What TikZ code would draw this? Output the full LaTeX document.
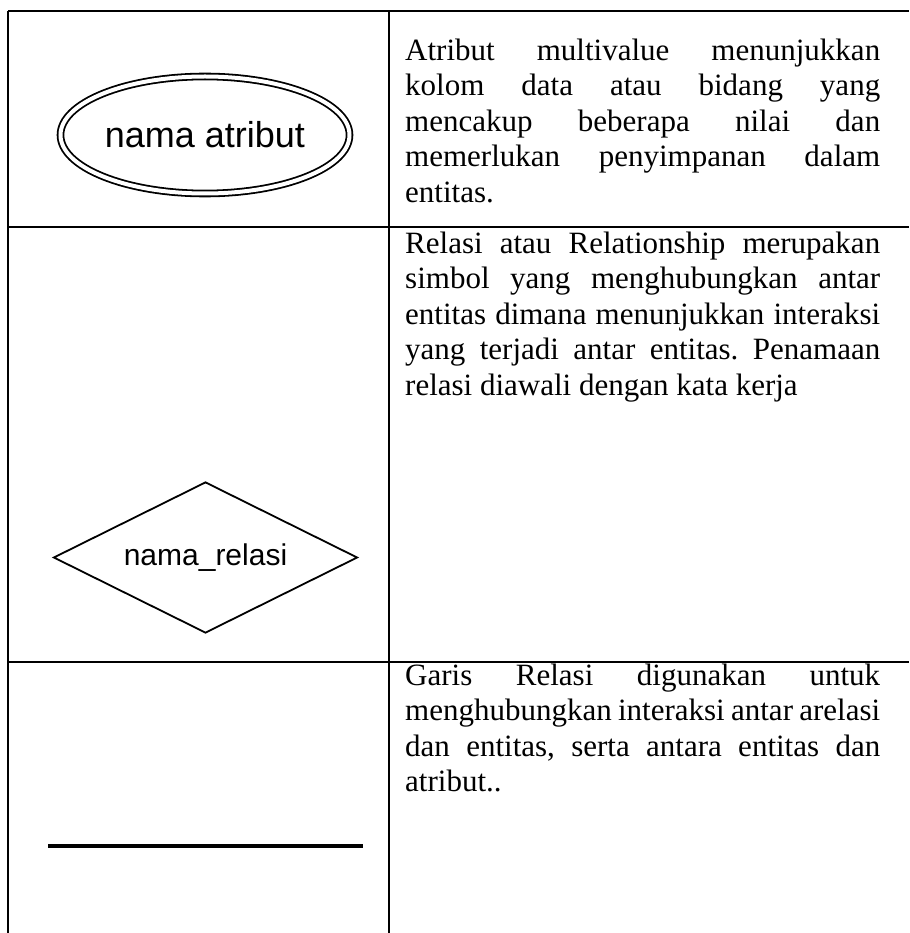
\documentclass[tikz,border=0pt]{standalone}
\usepackage{fontspec}
\setmainfont{Liberation Serif}
\newfontfamily\sansf{Liberation Sans}
\usetikzlibrary{shapes.geometric}
\tolerance=10000
\hbadness=10000
\hyphenpenalty=10000
\frenchspacing
\begin{document}
\frenchspacing
\begin{tikzpicture}[x=1pt,y=-1pt,
  rule/.style={line width=2.2pt},
  desc/.style={anchor=north west, inner sep=0pt, text width=475pt, align=justify,
    font=\fontsize{31}{35.5}\selectfont\frenchspacing},
  shapeline/.style={draw=black, line width=1.8pt}]
\useasboundingbox (0,0) rectangle (909,933);
% table rules
\coordinate (tl) at (8,11);
\coordinate (tr) at (909,11);
\coordinate (r1l) at (8,227);
\coordinate (r1r) at (909,227);
\coordinate (r2l) at (8,662);
\coordinate (r2r) at (909,662);
\coordinate (bl) at (8,933);
\coordinate (dt) at (389,11);
\coordinate (db) at (389,933);
\draw[rule] (tl) -- (tr);
\draw[rule] (r1l) -- (r1r);
\draw[rule] (r2l) -- (r2r);
\draw[rule] (tl) -- (bl);
\draw[rule] (dt) -- (db);
% row 1: multivalue attribute
\node[shapeline, ellipse, double, double distance=4pt, inner sep=0pt,
  minimum width=289pt, minimum height=117pt,
  font=\sansf\fontsize{36}{42}\selectfont] (attr) at (205,135) {nama atribut};
\node[desc] (t1) at (405,35.2) {\strut Atribut multivalue menunjukkan\linebreak
kolom data atau bidang yang\linebreak
mencakup beberapa nilai dan\linebreak
memerlukan penyimpanan dalam\linebreak
entitas.};
% row 2: relation
\node[shapeline, diamond, aspect=2, inner sep=0pt,
  minimum width=304pt, minimum height=151pt,
  font=\sansf\fontsize{30}{36}\selectfont] (rel) at (205.5,557.5) {nama\_relasi};
\node[desc] (t2) at (405,228.2) {\strut Relasi atau Relationship merupakan\linebreak
simbol yang menghubungkan antar\linebreak
entitas dimana menunjukkan interaksi\linebreak
yang terjadi antar entitas. Penamaan\linebreak
relasi diawali dengan kata kerja};
% row 3: relation line
\coordinate (la) at (48,846);
\coordinate (lb) at (362.5,846);
\draw[line width=3.5pt] (la) -- (lb);
\node[desc] (t3) at (405,660.2) {\strut Garis Relasi digunakan untuk\linebreak
menghubungkan interaksi antar arelasi\linebreak
dan entitas, serta antara entitas dan\linebreak
atribut..};
\end{tikzpicture}
\end{document}
